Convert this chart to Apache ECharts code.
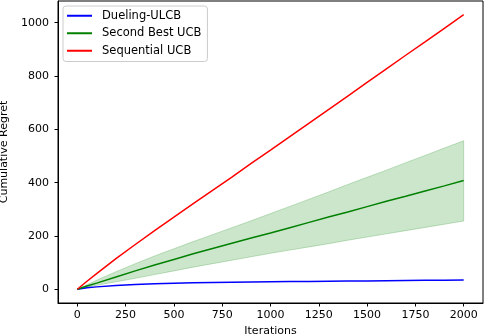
<!DOCTYPE html>
<html>
<head>
<meta charset="utf-8">
<script src="https://cdn.jsdelivr.net/npm/echarts@6/dist/echarts.min.js"></script>
<style>
  html, body { margin: 0; padding: 0; background: #fff; }
  #chart { width: 486px; height: 336px; }
</style>
</head>
<body>
<div id="chart"></div>
<script>
// x positions (iterations)
var iterations = [0, 50, 100, 200, 300, 400, 500, 600, 700, 800, 900, 1000,
  1100, 1200, 1300, 1400, 1500, 1600, 1700, 1800, 1900, 2000];
// cumulative regret
var duelingUlcb = [0, 6, 9, 14, 18, 21, 23, 24.5, 25.5, 26.5, 27.3, 28,
  28.7, 29.4, 30.1, 30.8, 31.5, 32.2, 32.9, 33.6, 34.3, 35];
var secondBest = [0, 12, 23, 46, 69, 91, 112, 133, 153, 173, 192, 211,
  231, 251, 271, 290, 310, 330, 349, 369, 388, 408];
var secondBestLow = [0, 8, 15, 28, 41, 55, 69, 83, 96, 109, 122, 135,
  147, 159, 171, 184, 196, 208, 220, 232, 244, 256];
var secondBestHigh = [0, 17, 34, 66, 96, 125, 152, 179, 205, 231, 257, 284,
  311, 338, 365, 393, 420, 447, 475, 502, 530, 557];
var sequentialUcb = [0, 30, 59, 115, 168, 220, 271, 321, 371, 421, 472, 522,
  573, 623, 674, 725, 776, 827, 878, 928, 979, 1030];
var xTicks = [0, 250, 500, 750, 1000, 1250, 1500, 1750, 2000];
var yTicks = [0, 200, 400, 600, 800, 1000];

function pairs(ys) {
  return iterations.map(function (x, i) { return [x, ys[i]]; });
}

var chart = echarts.init(document.getElementById('chart'), null, { renderer: 'canvas' });
var font = 'DejaVu Sans';

// shaded band between low and high, drawn as one polygon through the axes
function renderBand(params, api) {
  if (params.dataIndex !== 0) return null;
  var pts = [];
  for (var i = 0; i < iterations.length; i++) {
    pts.push(api.coord([iterations[i], secondBestHigh[i]]));
  }
  for (var j = iterations.length - 1; j >= 0; j--) {
    pts.push(api.coord([iterations[j], secondBestLow[j]]));
  }
  return {
    type: 'polygon',
    shape: { points: pts },
    style: { fill: 'rgba(0,128,0,0.2)', stroke: 'rgba(0,128,0,0.22)', lineWidth: 1 }
  };
}

var option = {
  animation: false,
  backgroundColor: '#fff',
  textStyle: { fontFamily: font },
  grid: {
    left: 58, right: 3, top: 1, bottom: 33,
    outerBoundsMode: 'none', containLabel: false,
    show: true, borderColor: '#000', borderWidth: 1, backgroundColor: 'transparent'
  },
  legend: {
    orient: 'vertical',
    left: 63, top: 6,
    padding: [3, 6, 4, 4],
    itemWidth: 25, itemHeight: 2, itemGap: 4,
    icon: 'rect',
    backgroundColor: 'rgba(255,255,255,0.8)',
    borderColor: '#cccccc', borderWidth: 1, borderRadius: 3,
    textStyle: { fontFamily: font, fontSize: 11.5, color: '#000', lineHeight: 13.5, padding: [0, 0, 0, 5] },
    data: ['Dueling-ULCB', 'Second Best UCB', 'Sequential UCB']
  },
  xAxis: {
    type: 'value',
    min: -100, max: 2100,
    name: 'Iterations', nameLocation: 'middle', nameGap: 22,
    nameTextStyle: { fontFamily: font, fontSize: 11, color: '#000' },
    axisLine: { show: true, onZero: false, lineStyle: { color: '#000', width: 1 } },
    axisTick: { show: true, length: 3.5, customValues: xTicks, lineStyle: { color: '#000' } },
    axisLabel: {
      customValues: xTicks, margin: 7, fontFamily: font, fontSize: 11, color: '#000',
      formatter: function (v) { return String(v); }
    },
    splitLine: { show: false }
  },
  yAxis: {
    type: 'value',
    min: -51.5, max: 1081.5,
    name: 'Cumulative Regret', nameLocation: 'middle', nameGap: 45,
    nameTextStyle: { fontFamily: font, fontSize: 11, color: '#000' },
    axisLine: { show: true, onZero: false, lineStyle: { color: '#000', width: 1 } },
    axisTick: { show: true, length: 3.5, customValues: yTicks, lineStyle: { color: '#000' } },
    axisLabel: {
      customValues: yTicks, margin: 9, fontFamily: font, fontSize: 11, color: '#000',
      formatter: function (v) { return String(v); }
    },
    splitLine: { show: false }
  },
  series: [
    {
      name: 'band', type: 'custom', silent: true,
      renderItem: renderBand,
      data: pairs(secondBestHigh),
      clip: true
    },
    {
      name: 'Dueling-ULCB', type: 'line', symbol: 'none', color: '#0000ff',
      data: pairs(duelingUlcb), lineStyle: { width: 1.5 }
    },
    {
      name: 'Second Best UCB', type: 'line', symbol: 'none', color: '#008000',
      data: pairs(secondBest), lineStyle: { width: 1.5 }
    },
    {
      name: 'Sequential UCB', type: 'line', symbol: 'none', color: '#ff0000',
      data: pairs(sequentialUcb), lineStyle: { width: 1.5 }
    }
  ]
};
chart.setOption(option);
</script>
</body>
</html>
